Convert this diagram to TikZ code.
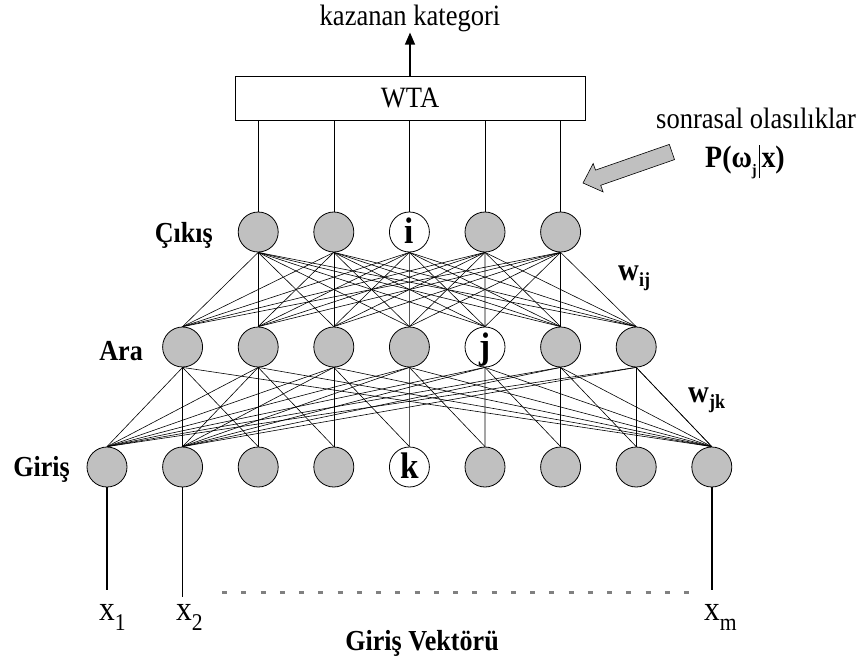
\documentclass[tikz,border=0pt]{standalone}
\usepackage{fontspec}
\setmainfont[FakeStretch=0.9]{Liberation Serif}
\usetikzlibrary{arrows.meta}
\definecolor{unitgray}{HTML}{C0C0C0}
\definecolor{dotgray}{HTML}{808080}

\begin{document}
\begin{tikzpicture}
  [x=1pt,y=-1pt,
   neuron/.style={circle,draw,fill=unitgray,line width=.8pt,minimum size=40pt,inner sep=0pt},
   pick/.style={fill=white,font=\fontsize{37}{37}\selectfont\bfseries,text height=22pt,text depth=0pt},
   link/.style={line width=.6pt},
   layer/.style={font=\fontsize{29}{32}\selectfont\bfseries,inner sep=0pt},
   txt/.style={font=\fontsize{29.5}{32}\selectfont,inner sep=1pt},
   xin/.style={font=\fontsize{35}{35}\selectfont,inner sep=0pt,anchor=base west}]
  \useasboundingbox (0,0) rectangle (864,662);

  % cikis, ara ve giris katmanlari
  \foreach \i in {1,2,4,5}
    \node[neuron] (out\i) at ({107+75.6*(\i+1)},232) {};
  \node[neuron,pick] (out3) at (409.4,232) {i};
  \foreach \i in {1,2,3,4,6,7}
    \node[neuron] (hid\i) at ({107+75.6*\i},347) {};
  \node[neuron,pick] (hid5) at (485,347) {j};
  \foreach \i in {1,2,3,4,6,7,8,9}
    \node[neuron] (in\i) at ({107+75.6*(\i-1)},467) {};
  \node[neuron,pick] (in5) at (409.4,467) {k};

  \node[layer,anchor=base east] (cikis) at (213,242) {Çıkış};
  \node[layer,anchor=base east] (ara) at (143,360) {Ara};
  \node[layer,anchor=base east] (giris) at (70,476) {Giriş};

  % WTA
  \node[draw,line width=.8pt,minimum width=350pt,minimum height=44pt,inner sep=0pt,
        font=\fontsize{29.5}{32}\selectfont] (wta) at (410,98) {WTA};
  \node[txt,anchor=base] (win) at (410,25) {kazanan kategori};
  \draw[line width=1.2pt,-{Triangle[length=12pt,width=10pt]}] (wta.north) -- (wta.north |- win.south);
  \foreach \i in {1,...,5}
    \draw[link] (out\i.north) -- (out\i.north |- wta.south);

  % agirliklar
  \foreach \o in {1,...,5}
    \foreach \h in {1,...,7}
      \draw[link] (out\o.south) -- (hid\h.north);
  \foreach \h [evaluate=\h as \v using int(\h+1), evaluate=\h as \d using int(\h+2)] in {1,...,7}
    \foreach \t in {1,2,\v,\d,9}
      \draw[link] (hid\h.south) -- (in\t.north);

  \node[anchor=base west,inner sep=0pt] (wij) at (618,280)
    {\fontsize{32}{32}\selectfont\bfseries w\raisebox{-6pt}{\fontsize{20}{20}\selectfont ij}};
  \node[anchor=base west,inner sep=0pt] (wjk) at (688,402)
    {\fontsize{32}{32}\selectfont\bfseries w\raisebox{-6pt}{\fontsize{20}{20}\selectfont jk}};

  % sonrasal olasiliklar
  \node[txt,anchor=base west,inner sep=0pt] (sonra) at (656,128) {sonrasal olasılıklar};
  \node[anchor=base west,inner sep=0pt] (post) at (705,167)
    {\fontsize{31}{31}\selectfont\bfseries P(ω\raisebox{-8pt}{\fontsize{16}{16}\selectfont j}\hspace{2pt}\rule[-11pt]{.8pt}{33pt}\hspace{2pt}x)};
  \draw[fill=unitgray,line width=.6pt]
    (583,183) -- (593.2,163.5) -- (595.5,170.1) -- (669.3,144.4)
    -- (674.5,159.6) -- (600.7,185.3) -- (603.1,191.9) -- cycle;

  % giris vektoru
  \path (in1.south) ++(0,103) coordinate (x1top);
  \path (in2.south) ++(0,110) coordinate (x2top);
  \path (in9.south) ++(0,103) coordinate (xmtop);
  \draw[line width=1.4pt] (in1.south) -- (x1top);
  \draw[line width=1.4pt] (in2.south) -- (x2top);
  \draw[line width=1.4pt] (in9.south) -- (xmtop);
  \node[xin] (x1) at (99,620) {x\raisebox{-10pt}{\fontsize{24}{24}\selectfont 1}};
  \node[xin] (x2) at (176,620) {x\raisebox{-10pt}{\fontsize{24}{24}\selectfont 2}};
  \node[xin] (xm) at (704,620) {x\raisebox{-10pt}{\fontsize{24}{24}\selectfont m}};
  \draw[dotgray,line width=3pt,dash pattern=on 5pt off 14.25pt] (222,592) -- (689,592);
  \node[layer,anchor=base] (vektor) at (422,650) {Giriş Vektörü};

\end{tikzpicture}
\end{document}
